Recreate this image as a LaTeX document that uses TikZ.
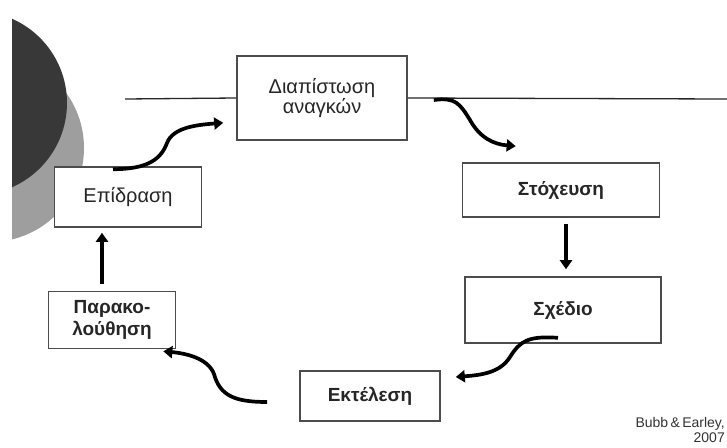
\documentclass[tikz,border=0pt]{standalone}
\usepackage{fontspec}
\setmainfont{Liberation Sans}
\usetikzlibrary{arrows.meta,calc}

\begin{document}
\begin{tikzpicture}[x=1pt, y=-1pt,
    stage/.style={rectangle, draw=black!70, line width=1.6pt, fill=white, align=center, inner sep=2pt, text=black!85, font=\fontsize{20}{20.5}\selectfont},
    boldstage/.style={stage, font=\fontsize{19}{21.5}\selectfont\bfseries},
    flow/.style={-{Triangle[length=9pt,width=12pt]}, line width=3.7pt, black},
    rule/.style={line width=1.3pt, black!85}
]
    \useasboundingbox (0,0) rectangle (727,447);

    % Backdrop circles
    \begin{scope}
        \clip (12,0) rectangle (727,447);
        \fill[black!38] (-10,148) circle (94pt);
        \fill[black!78] (-25,103) circle (92pt);
    \end{scope}

    % Stages
    \node[stage, minimum width=170pt, minimum height=84pt] (diapistosi) at (322,98) {Διαπίστωση\\αναγκών};
    \node[boldstage, minimum width=197pt, minimum height=54pt] (stoxeusi) at (561,190) {Στόχευση};
    \node[boldstage, minimum width=196pt, minimum height=66pt] (sxedio) at (563,310) {Σχέδιο};
    \node[boldstage, minimum width=140pt, minimum height=50pt] (ektelesi) at (370,396) {Εκτέλεση};
    \node[boldstage, minimum width=127pt, minimum height=57pt] (parakolouthisi) at (112,320) {Παρακο-\\λούθηση};
    \node[stage, minimum width=147pt, minimum height=60pt] (epidrasi) at (128,197) {Επίδραση};

    % Horizontal rule through the first stage
    \coordinate (ruleL) at (125,99);
    \coordinate (ruleR) at (727,99);
    \draw[rule] (ruleL) -- (diapistosi.west);
    \draw[rule] (diapistosi.east) -- (ruleR);

    % Arrows
    \draw[flow] ($(epidrasi.north)+(-15,3)$) .. controls +(35,0) and +(-6,16) .. (167,143)
        .. controls +(6,-16) and +(-25,2) .. ($(diapistosi.south west)+(-13,-18)$);
    \draw[flow] ($(diapistosi.east)+(26,2)$) .. controls +(22,-3) and +(-10,-16) .. (470,120)
        .. controls +(10,18) and +(-22,-2) .. ($(stoxeusi.north west)+(54,-16)$);
    \draw[flow] ($(stoxeusi.south)+(5,6)$) -- ($(sxedio.north)+(3,-7)$);
    \draw[flow] ($(sxedio.south)+(-5,-6)$) .. controls +(-30,-2) and +(10,-16) .. (510,357)
        .. controls +(-10,16) and +(25,-2) .. ($(ektelesi.east)+(15,-19)$);
    \draw[flow] ($(ektelesi.west)+(-32,6)$) .. controls +(-32,0) and +(6,22) .. (214,374)
        .. controls +(-6,-16) and +(22,2) .. ($(parakolouthisi.south east)+(-13,2)$);
    \draw[flow] ($(parakolouthisi.north)+(-10,-7)$) -- ($(parakolouthisi.north |- epidrasi.south)+(-10,5)$);

    % Source
    \node[anchor=south east, align=right, inner sep=0pt, text=black!80, font=\fontsize{14}{15}\selectfont] (source) at (725,443) {Bubb\,\&\,Earley,\\2007};
\end{tikzpicture}
\end{document}
